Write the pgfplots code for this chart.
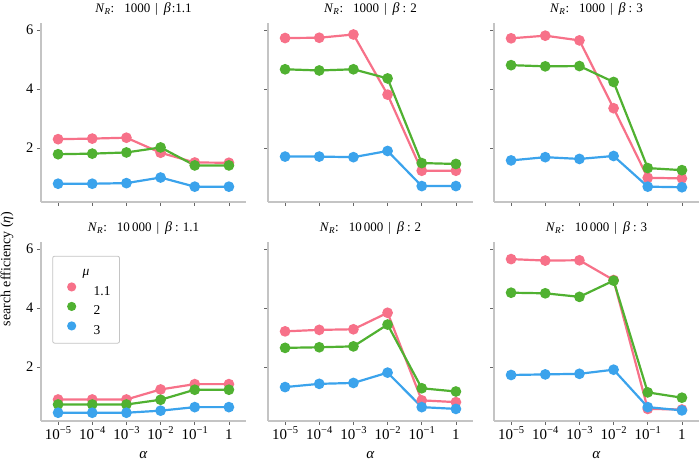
\documentclass[border=0pt]{standalone}
\usepackage{fontspec}
\setmainfont{Liberation Serif}
\usepackage{pgfplots}
\pgfplotsset{compat=1.18}
\definecolor{cpink}{HTML}{F77189}
\definecolor{cgreen}{HTML}{50B131}
\definecolor{cblue}{HTML}{3BA3EC}
\definecolor{spine}{HTML}{C4C4C4}
\definecolor{tickc}{HTML}{666666}
\newcommand{\NR}{\textit{N}\textsubscript{\textit{R}}}
\newcommand{\ttl}[3]{\NR:\hspace{10pt}#1\hspace{5pt}|\hspace{6pt}{\fontsize{14}{15}\selectfont\textit{β}}#2#3}
\newcommand{\sps}[1]{10\raisebox{5.5pt}{\fontsize{10.5}{11}\selectfont −#1}}
\pgfplotsset{
  panel/.style={
    scale only axis, width=205pt, height=179pt,
    xmin=-0.5, xmax=5.5, ymin=0.17, ymax=6.24,
    axis x line*=bottom, axis y line*=left,
    axis line style={spine, line width=1.4pt},
    xtick={0,1,2,3,4,5}, ytick={2,4,6},
    xticklabels={}, yticklabels={},
    tick style={tickc, line width=0.8pt}, tick align=outside, major tick length=4pt,
    /pgf/number format/assume math mode=true,
    tick label style={font=\fontsize{14.5}{16}\selectfont, black},
    xticklabel style={font=\fontsize{15}{16}\selectfont, anchor=base, yshift=-14.5pt},
    title style={font=\fontsize{13}{15}\selectfont, at={(axis description cs:0.5,1)}, anchor=base, yshift=4pt},
    xlabel style={font=\fontsize{15}{16}\selectfont, at={(axis description cs:0.5,0)}, anchor=base, yshift=-37.5pt},
    clip=false,
    every axis plot/.append style={line width=2.2pt, mark=*, mark size=4.2pt},
  },
  ylab/.style={yticklabels={2,4,6}},
  xlab/.style={xticklabels={\sps{5},\sps{4},\sps{3},\sps{2},\sps{1},1}, xlabel={\textit{α}}},
}
\begin{document}
\begin{tikzpicture}
\useasboundingbox (0pt,0pt) rectangle (699pt,468pt);
% top row
\begin{axis}[panel, ylab, at={(41pt,266pt)}, anchor=south west,
  title={\ttl{1000}{\hspace{1pt}:}{1.1}}]
\addplot[cpink] coordinates {(0,2.30) (1,2.32) (2,2.35) (3,1.84) (4,1.51) (5,1.50)};
\addplot[cgreen] coordinates {(0,1.79) (1,1.81) (2,1.85) (3,2.02) (4,1.41) (5,1.41)};
\addplot[cblue] coordinates {(0,0.79) (1,0.79) (2,0.81) (3,1.00) (4,0.69) (5,0.69)};
\end{axis}
\begin{axis}[panel, at={(268pt,266pt)}, anchor=south west,
  title={\ttl{1000}{\hspace{3pt}:\hspace{4pt}}{2}}]
\addplot[cpink] coordinates {(0,5.73) (1,5.74) (2,5.85) (3,3.81) (4,1.23) (5,1.23)};
\addplot[cgreen] coordinates {(0,4.67) (1,4.63) (2,4.67) (3,4.36) (4,1.49) (5,1.46)};
\addplot[cblue] coordinates {(0,1.71) (1,1.71) (2,1.69) (3,1.90) (4,0.71) (5,0.71)};
\end{axis}
\begin{axis}[panel, at={(494pt,266pt)}, anchor=south west,
  title={\ttl{1000}{\hspace{3pt}:\hspace{4pt}}{3}}]
\addplot[cpink] coordinates {(0,5.72) (1,5.81) (2,5.65) (3,3.35) (4,0.99) (5,0.97)};
\addplot[cgreen] coordinates {(0,4.81) (1,4.77) (2,4.78) (3,4.24) (4,1.32) (5,1.25)};
\addplot[cblue] coordinates {(0,1.58) (1,1.69) (2,1.63) (3,1.73) (4,0.69) (5,0.67)};
\end{axis}
% bottom row
\begin{axis}[panel, ylab, xlab, at={(41pt,47pt)}, anchor=south west,
  title={\ttl{10\,000}{\hspace{3pt}:\hspace{4pt}}{1.1}},
  legend style={at={(0.055,0.923)}, anchor=north west, draw=spine, line width=0.8pt, rounded corners=2pt,
    font=\fontsize{13.5}{15}\selectfont, row sep=0pt, inner xsep=9pt, inner ysep=4.5pt,
    nodes={inner sep=0pt, text height=15pt, text depth=4.5pt}},
  legend image code/.code={\path[draw=none] (0pt,-3pt) rectangle (20pt,6pt); \fill[draw=none] (10pt,3pt) circle (4.6pt);},
  legend cell align=left]
\addlegendimage{empty legend}
\addlegendentry{\hspace{1pt}\textit{μ}}
\addlegendimage{cpink}
\addlegendentry{\hspace{12pt}1.1\hspace{3pt}}
\addlegendimage{cgreen}
\addlegendentry{\hspace{12pt}2}
\addlegendimage{cblue}
\addlegendentry{\hspace{12pt}3}
\addplot[cpink, forget plot] coordinates {(0,0.90) (1,0.90) (2,0.90) (3,1.24) (4,1.42) (5,1.42)};
\addplot[cgreen, forget plot] coordinates {(0,0.73) (1,0.73) (2,0.73) (3,0.89) (4,1.23) (5,1.23)};
\addplot[cblue, forget plot] coordinates {(0,0.45) (1,0.45) (2,0.45) (3,0.52) (4,0.64) (5,0.64)};
\end{axis}
\begin{axis}[panel, xlab, at={(268pt,47pt)}, anchor=south west,
  title={\ttl{10\,000}{\hspace{3pt}:\hspace{4pt}}{2}}]
\addplot[cpink] coordinates {(0,3.21) (1,3.26) (2,3.28) (3,3.84) (4,0.87) (5,0.81)};
\addplot[cgreen] coordinates {(0,2.65) (1,2.67) (2,2.70) (3,3.44) (4,1.28) (5,1.17)};
\addplot[cblue] coordinates {(0,1.32) (1,1.43) (2,1.46) (3,1.81) (4,0.64) (5,0.58)};
\end{axis}
\begin{axis}[panel, xlab, at={(494pt,47pt)}, anchor=south west,
  title={\ttl{10\,000}{\hspace{3pt}:\hspace{4pt}}{3}}]
\addplot[cpink] coordinates {(0,5.66) (1,5.61) (2,5.62) (3,4.95) (4,0.58) (5,0.56)};
\addplot[cgreen, error bars/.cd, y dir=both, y explicit, error bar style={line width=1.2pt}, error mark=none]
  coordinates {(0,4.52) (1,4.50) (2,4.38) (3,4.93) +- (0,0.16) (4,1.14) (5,0.96)};
\addplot[cblue] coordinates {(0,1.73) (1,1.75) (2,1.77) (3,1.91) (4,0.64) (5,0.53)};
\end{axis}
\node[rotate=90, font=\fontsize{14}{16}\selectfont] at (7pt,199pt) {search efficiency (\textit{η})};
\end{tikzpicture}
\end{document}
